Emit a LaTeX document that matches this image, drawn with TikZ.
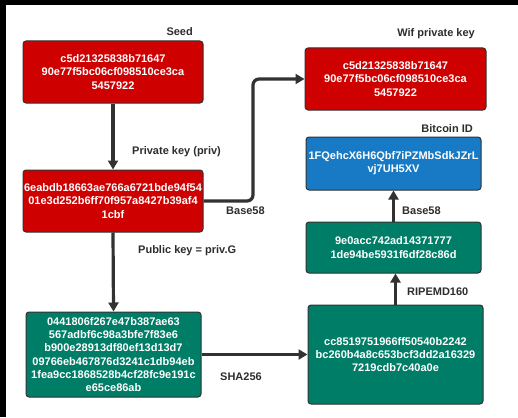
\documentclass[tikz,border=0pt]{standalone}
\usepackage{fontspec}
\setmainfont{Liberation Sans}
\usetikzlibrary{arrows.meta}
\definecolor{keyred}{RGB}{206,0,0}
\definecolor{hashgreen}{RGB}{0,125,102}
\definecolor{idblue}{RGB}{24,122,196}
\definecolor{edge}{RGB}{50,50,50}
\definecolor{labelgray}{RGB}{45,45,45}
\begin{document}
\begin{tikzpicture}[x=1pt,y=-1pt,
  box/.style={draw=edge,line width=1pt,rounded corners=3pt,text=white,
    font=\fontsize{11}{13.3}\selectfont\bfseries,align=center,inner sep=0pt},
  redbox/.style={box,fill=keyred},
  greenbox/.style={box,fill=hashgreen},
  bluebox/.style={box,fill=idblue},
  caption/.style={text=labelgray,font=\fontsize{11}{13}\selectfont\bfseries,inner sep=0pt},
  flow/.style={draw=edge,line width=3.2pt,-{Triangle[length=9pt,width=10pt]}}]
  \useasboundingbox (0,0) rectangle (518,417);
  \fill[white] (0,0) rectangle (518,417);
  % dark frame strips along the top and left edges
  \fill[black] (0,0) rectangle (518,5);
  \fill[black] (0,0) rectangle (6,417);

  % key boxes
  \node[redbox,minimum width=180pt,minimum height=62pt] (seed) at (113,72)
    {c5d21325838b71647\\90e77f5bc06cf098510ce3ca\\5457922};
  \node[redbox,minimum width=181pt,minimum height=62pt] (wif) at (395.5,79)
    {c5d21325838b71647\\90e77f5bc06cf098510ce3ca\\5457922};
  \node[redbox,minimum width=180pt,minimum height=62pt] (priv) at (113,201)
    {6eabdb18663ae766a6721bde94f54\\01e3d252b6ff70f957a8427b39af4\\1cbf};
  \node[greenbox,minimum width=175pt,minimum height=85pt] (pub) at (113.5,354.5)
    {0441806f267e47b387ae63\\567adbf6c98a3bfe7f83e6\\b900e28913df80ef13d13d7\\09766eb467876d3241c1db94eb\\1fea9cc1868528b4cf28fc9e191c\\e65ce86ab};
  \node[greenbox,minimum width=175pt,minimum height=99pt] (sha) at (395.5,354.5)
    {cc8519751966ff50540b2242\\bc260b4a8c653bcf3dd2a16329\\7219cdb7c40a0e};
  \node[greenbox,minimum width=175pt,minimum height=51pt] (ripemd) at (393.5,247.5)
    {9e0acc742ad14371777\\1de94be5931f6df28c86d};
  \node[bluebox,minimum width=175pt,minimum height=53pt] (btc) at (393.5,163.5)
    {1FQehcX6H6Qbf7iPZMbSdkJZrL\\vj7UH5XV};

  % box titles
  \node[caption,anchor=east] (seedt) at (193,32) {Seed};
  \node[caption,anchor=east] (wift) at (475,34) {Wif private key};
  \node[caption,anchor=east] (btct) at (473,129) {Bitcoin ID};

  % derivation steps
  \draw[flow] (seed.south) -- (priv.north);
  \draw[flow] (priv.south) -- (pub.north);
  \draw[flow,rounded corners=6pt] (priv.east) -- (253,201) |- (wif.west);
  \draw[flow] (pub.east) -- (sha.west);
  \draw[flow] (sha.north) -- (sha.north |- ripemd.south);
  \draw[flow] (ripemd.north) -- (btc.south);

  % step labels
  \node[caption,anchor=west] (privl) at (132,152) {Private key (priv)};
  \node[caption,anchor=west] (publ) at (138,251) {Public key = priv.G};
  \node[caption,anchor=west] (b58a) at (226,211) {Base58};
  \node[caption,anchor=west] (shal) at (220,377) {SHA256};
  \node[caption,anchor=west] (ripl) at (407,292) {RIPEMD160};
  \node[caption,anchor=west] (b58b) at (402,211) {Base58};
\end{tikzpicture}
\end{document}
